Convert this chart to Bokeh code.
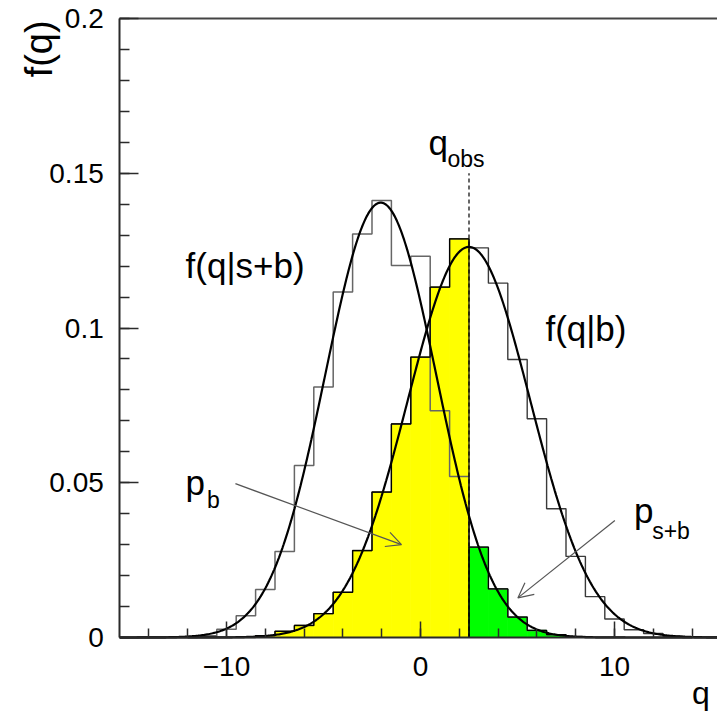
import numpy as np
from bokeh.plotting import figure
from bokeh.models import (Range1d, SingleIntervalTicker, CustomJSTickFormatter,
                          Label, Arrow, OpenHead, LinearAxis)
from bokeh.embed import file_html
from bokeh.resources import INLINE

# ---------------- data ----------------
bin_centers = list(range(-12, 15))          # bins of width 1, edges at half-integers
bin_width = 1.0
f_sb_hist = [0, 0.0006, 0.0027, 0.0070, 0.0155, 0.0278, 0.0556, 0.0809, 0.1116,
             0.1304, 0.1412, 0.1202, 0.1232, 0.0733, 0.0520, 0.0292, 0.0157,
             0.0066, 0.0023, 0.0009, 0.0003, 0, 0, 0, 0, 0, 0]
f_b_hist = [0, 0, 0, 0, 0.0006, 0.0020, 0.0039, 0.0077, 0.0146, 0.0281, 0.0470,
            0.0690, 0.0906, 0.1132, 0.1288, 0.1259, 0.1145, 0.0898, 0.0707,
            0.0416, 0.0262, 0.0132, 0.0060, 0.0025, 0.0013, 0.0004, 0]

# fitted Gaussian curves (parameters)
sb_mean, sb_sigma, sb_peak = -2.05, 2.85, 0.1405
b_mean, b_sigma, b_peak = 2.5, 3.16, 0.1262

q_obs = 2.5
q_obs_line_top = 0.15

x_axis_bounds = (-15.5, 15.5)
y_axis_bounds = (0.0, 0.2)
x_ticks_interval = 10
y_ticks_interval = 0.05

FONT = "Liberation Sans"

# ---------------- figure (frame fills the canvas; axes at fixed locations) ----
p = figure(width=717, height=711,
           x_range=Range1d(-21.649, 15.309), y_range=Range1d(-0.02391, 0.20582),
           output_backend="svg", toolbar_location=None,
           min_border_left=0, min_border_right=0,
           min_border_top=0, min_border_bottom=0)
p.grid.visible = False
p.outline_line_color = None
p.background_fill_color = "white"
p.border_fill_color = "white"

xa = p.xaxis[0]
xa.fixed_location = y_axis_bounds[0]
xa.bounds = x_axis_bounds
xa.ticker = SingleIntervalTicker(interval=x_ticks_interval, num_minor_ticks=5)
xa.formatter = CustomJSTickFormatter(
    code="return tick < 0 ? '\u2212' + Math.abs(tick) : String(tick);")
ya = p.yaxis[0]
ya.fixed_location = x_axis_bounds[0]
ya.bounds = y_axis_bounds
ya.ticker = SingleIntervalTicker(interval=y_ticks_interval, num_minor_ticks=5)
ya.formatter = CustomJSTickFormatter(code="return String(Math.round(tick*100)/100);")

for ax, tin, min_in, standoff in ((xa, 16, 9, 19), (ya, 19, 10, 16)):
    ax.major_tick_in = tin
    ax.major_tick_out = 0
    ax.minor_tick_in = min_in
    ax.minor_tick_out = 0
    ax.axis_line_color = "#2a2a2a"
    ax.axis_line_width = 2
    ax.major_tick_line_color = "#2a2a2a"
    ax.minor_tick_line_color = "#2a2a2a"
    ax.major_tick_line_width = 1.5
    ax.minor_tick_line_width = 1.5
    ax.major_label_text_font = FONT
    ax.major_label_text_font_size = "28px"
    ax.major_label_text_color = "black"
    ax.major_label_standoff = standoff

# top frame line
top = LinearAxis(fixed_location=y_axis_bounds[1], bounds=x_axis_bounds,
                 major_tick_in=0, major_tick_out=0, minor_tick_in=0, minor_tick_out=0,
                 major_label_text_color=None, axis_line_color="#444",
                 axis_line_width=2)
p.add_layout(top, "above")

# ---------------- filled regions ----------------
c = np.array(bin_centers, dtype=float)
sb = np.array(f_sb_hist)
b = np.array(f_b_hist)
left_mask = c < q_obs
yel = np.where(left_mask, b, 0.0)
grn = np.where(~left_mask, sb, 0.0)

p.quad(left=c - bin_width / 2, right=c + bin_width / 2, bottom=0, top=yel,
       fill_color="#ffff00", line_color="#ffff00", line_width=0.8)
p.quad(left=c - bin_width / 2, right=c + bin_width / 2, bottom=0, top=grn,
       fill_color="#00ff00", line_color="#00ff00", line_width=0.8)

# ---------------- histogram outlines ----------------
p.step(c, b, mode="center", line_color="#3a3a3a", line_width=1.4)
p.step(c, sb, mode="center", line_color="#666666", line_width=1.5)
p.step(c, yel, mode="center", line_color="black", line_width=1.2)
p.step(c, grn, mode="center", line_color="black", line_width=1.2)

# ---------------- fitted curves ----------------
qq = np.linspace(x_axis_bounds[0], x_axis_bounds[1], 500)
p.line(qq, sb_peak * np.exp(-0.5 * ((qq - sb_mean) / sb_sigma) ** 2),
       line_color="black", line_width=2.2)
p.line(qq, b_peak * np.exp(-0.5 * ((qq - b_mean) / b_sigma) ** 2),
       line_color="black", line_width=2.2)

# q_obs dashed line
p.segment(x0=[q_obs], y0=[0], x1=[q_obs], y1=[q_obs_line_top],
          line_color="black", line_width=1.2, line_dash="4 3")

# ---------------- arrows ----------------
for (xs, ys, xe, ye) in ((-9.54, 0.0497, -0.98, 0.0300),
                         (10.02, 0.0378, 5.02, 0.0128)):
    p.add_layout(Arrow(end=OpenHead(size=15, line_color="#555", line_width=1.2),
                       x_start=xs, y_start=ys, x_end=xe, y_end=ye,
                       line_color="#555", line_width=1.2))

# ---------------- texts ----------------
def lab(x, y, text, size, align="left", angle=0.0):
    p.add_layout(Label(x=x, y=y, text=text, text_font=FONT,
                       text_font_size=f"{size}px", text_color="black",
                       text_align=align, text_baseline="alphabetic",
                       angle=angle))

lab(-12.11, 0.1202, "f(q|s+b)", 35)
lab(6.44, 0.0998, "f(q|b)", 35)
lab(0.41, 0.160, "q", 35)
lab(1.39, 0.1545, "obs", 23)
lab(-12.11, 0.0501, "p", 35)
lab(-11.0, 0.0443, "b", 23)
lab(11.0, 0.0410, "p", 35)
lab(11.94, 0.0343, "s+b", 23)

# axis titles
lab(-19.64, 0.1994, "f(q)", 38, align="right", angle=np.pi / 2)
lab(14.0, -0.0178, "q", 32, align="left")

open("out.html", "w").write(file_html(p, INLINE))
